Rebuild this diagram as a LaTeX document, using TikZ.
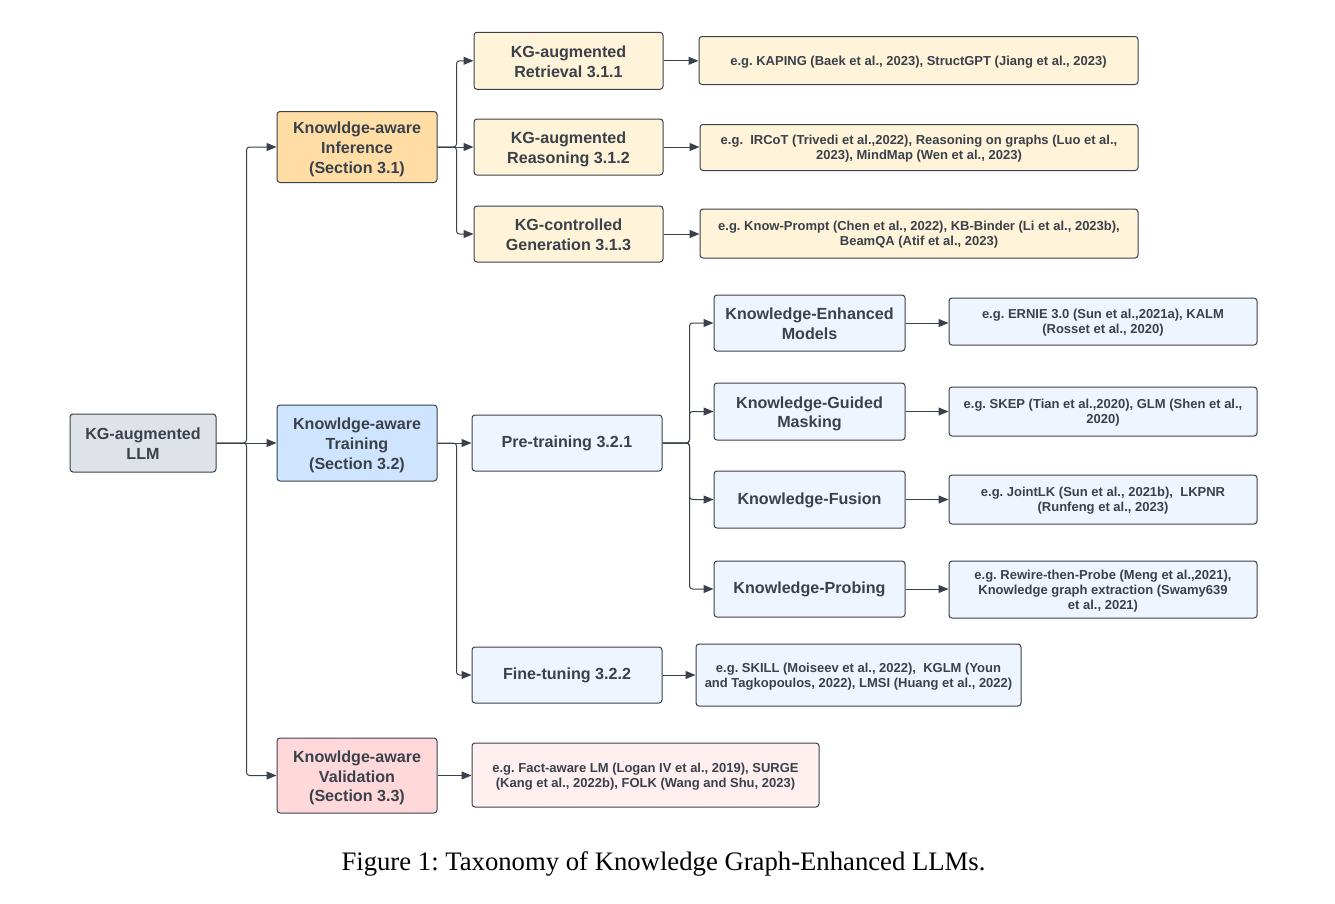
\documentclass[tikz,border=0pt]{standalone}
\usepackage{fontspec}
\setmainfont{Liberation Sans}
\newfontfamily\capfont{Liberation Serif}
\usetikzlibrary{arrows.meta}
\frenchspacing
\definecolor{ink}{HTML}{3A414A}
\definecolor{cgray}{HTML}{DFE3E8}
\definecolor{corange}{HTML}{FFDDA4}
\definecolor{ccream}{HTML}{FFF3D9}
\definecolor{cblue}{HTML}{CFE4FF}
\definecolor{clblue}{HTML}{EEF5FF}
\definecolor{cpink}{HTML}{FFD9D9}
\definecolor{clpink}{HTML}{FFEFEF}
\newcommand{\bxt}[1]{\raisebox{-2.6pt}[\height][\depth]{\begin{tabular}{@{}c@{}}#1\end{tabular}}}
\newcommand{\bxs}[1]{\raisebox{-1pt}[\height][\depth]{\begin{tabular}{@{}c@{}}#1\end{tabular}}}
\newcommand{\ext}[1]{\raisebox{-1.8pt}[\height][\depth]{\begin{tabular}{@{}c@{}}#1\end{tabular}}}
\tikzset{
  box/.style={draw=ink, line width=1pt, rounded corners=3pt, inner sep=0pt,
    text=ink, font=\bfseries\fontsize{16.1}{19.8}\selectfont},
  exbox/.style={box, font=\bfseries\fontsize{13}{15}\selectfont},
  conn/.style={draw=ink, line width=1pt, rounded corners=3pt, -{Triangle[length=10pt,width=8pt]}},
}
\begin{document}
\begin{tikzpicture}[x=1pt,y=-1pt]
\useasboundingbox (0,0) rectangle (1335,903);
% level 1
\node[box, fill=cgray, minimum width=146, minimum height=58] (llm) at (143,443) {\bxt{KG-augmented\\LLM}};
% level 2
\node[box, fill=corange, minimum width=160, minimum height=71] (inf) at (357,147) {\bxt{Knowldge-aware\\Inference\\(Section 3.1)}};
\node[box, fill=cblue, minimum width=160, minimum height=76] (trn) at (357,443) {\bxt{Knowldge-aware\\Training\\(Section 3.2)}};
\node[box, fill=cpink, minimum width=160, minimum height=75] (val) at (357,775.5) {\bxt{Knowldge-aware\\Validation\\(Section 3.3)}};
% inference children
\node[box, fill=ccream, minimum width=189, minimum height=57] (ret) at (568.5,60.8) {\bxt{KG-augmented\\Retrieval 3.1.1}};
\node[box, fill=ccream, minimum width=189, minimum height=56] (rea) at (568.5,147) {\bxt{KG-augmented\\Reasoning 3.1.2}};
\node[box, fill=ccream, minimum width=189, minimum height=56] (gen) at (568.5,234) {\bxt{KG-controlled\\Generation 3.1.3}};
\node[exbox, fill=ccream, minimum width=439, minimum height=48] (e1) at (918.5,60.5) {\ext{e.g. KAPING (Baek et al., 2023), StructGPT (Jiang et al., 2023)}};
\node[exbox, fill=ccream, minimum width=438, minimum height=46] (e2) at (919,147.5) {\ext{e.g.\ \ IRCoT (Trivedi et al.,2022), Reasoning on graphs (Luo et al.,\\2023), MindMap (Wen et al., 2023)}};
\node[exbox, fill=ccream, minimum width=438, minimum height=49] (e3) at (919,233.5) {\ext{e.g. Know-Prompt (Chen et al., 2022), KB-Binder (Li et al., 2023b),\\BeamQA (Atif et al., 2023)}};
% training children
\node[box, fill=clblue, minimum width=190, minimum height=56] (pre) at (567,443) {\bxs{Pre-training 3.2.1}};
\node[box, fill=clblue, minimum width=190, minimum height=56] (ft) at (567,675) {\bxs{Fine-tuning 3.2.2}};
\node[box, fill=clblue, minimum width=191, minimum height=56] (kem) at (809.5,323) {\bxt{Knowledge-Enhanced\\Models}};
\node[box, fill=clblue, minimum width=191, minimum height=57] (kgm) at (809.5,411.5) {\bxt{Knowledge-Guided\\Masking}};
\node[box, fill=clblue, minimum width=191, minimum height=57] (kf) at (809.5,499.5) {\bxs{Knowledge-Fusion}};
\node[box, fill=clblue, minimum width=191, minimum height=56] (kp) at (809.5,589) {\bxs{Knowledge-Probing}};
\node[exbox, fill=clblue, minimum width=308, minimum height=47] (x1) at (1103,321.5) {\ext{e.g. ERNIE 3.0 (Sun et al.,2021a), KALM\\(Rosset et al., 2020)}};
\node[exbox, fill=clblue, minimum width=308, minimum height=49] (x2) at (1103,411.5) {\ext{e.g. SKEP (Tian et al.,2020), GLM (Shen et al.,\\2020)}};
\node[exbox, fill=clblue, minimum width=308, minimum height=49] (x3) at (1103,499.5) {\ext{e.g. JointLK (Sun et al., 2021b),\ \ LKPNR\\(Runfeng et al., 2023)}};
\node[exbox, fill=clblue, minimum width=308, minimum height=57] (x4) at (1103,589.5) {\ext{e.g. Rewire-then-Probe (Meng et al.,2021),\\Knowledge graph extraction (Swamy639\\et al., 2021)}};
\node[exbox, fill=clblue, minimum width=325, minimum height=62] (xft) at (858.5,675) {\ext{e.g. SKILL (Moiseev et al., 2022),\ \ KGLM (Youn\\and Tagkopoulos, 2022), LMSI (Huang et al., 2022)}};
% validation child
\node[exbox, fill=clpink, minimum width=347, minimum height=64] (xval) at (645.5,775) {\ext{e.g. Fact-aware LM (Logan IV et al., 2019), SURGE\\(Kang et al., 2022b), FOLK (Wang and Shu, 2023)}};
% caption
\node[font=\capfont\fontsize{26.7}{30}\selectfont, text=black] (cap) at (663.5,863.5) {Figure 1: Taxonomy of Knowledge Graph-Enhanced LLMs.};
% connectors
\draw[conn] (llm.east) -- ++(30,0) |- (inf.west);
\draw[conn] (llm.east) -- (trn.west);
\draw[conn] (llm.east) -- ++(30,0) |- (val.west);
\draw[conn] (inf.east) -- ++(19,0) |- (ret.west);
\draw[conn] (inf.east) -- (inf.east -| rea.west);
\draw[conn] (inf.east) -- ++(19,0) |- (gen.west);
\draw[conn] (trn.east) -- (pre.west);
\draw[conn] (trn.east) -- ++(19,0) |- (ft.west);
\draw[conn] (val.east) -- (val.east -| xval.west);
\draw[conn] (pre.east) -- ++(27,0) |- (kem.west);
\draw[conn] (pre.east) -- ++(27,0) |- (kgm.west);
\draw[conn] (pre.east) -- ++(27,0) |- (kf.west);
\draw[conn] (pre.east) -- ++(27,0) |- (kp.west);
\draw[conn] (ret.east) -- (ret.east -| e1.west);
\draw[conn] (rea.east) -- (rea.east -| e2.west);
\draw[conn] (gen.east) -- (gen.east -| e3.west);
\draw[conn] (kem.east) -- (kem.east -| x1.west);
\draw[conn] (kgm.east) -- (kgm.east -| x2.west);
\draw[conn] (kf.east) -- (kf.east -| x3.west);
\draw[conn] (kp.east) -- (kp.east -| x4.west);
\draw[conn] (ft.east) -- (ft.east -| xft.west);
\end{tikzpicture}
\end{document}
